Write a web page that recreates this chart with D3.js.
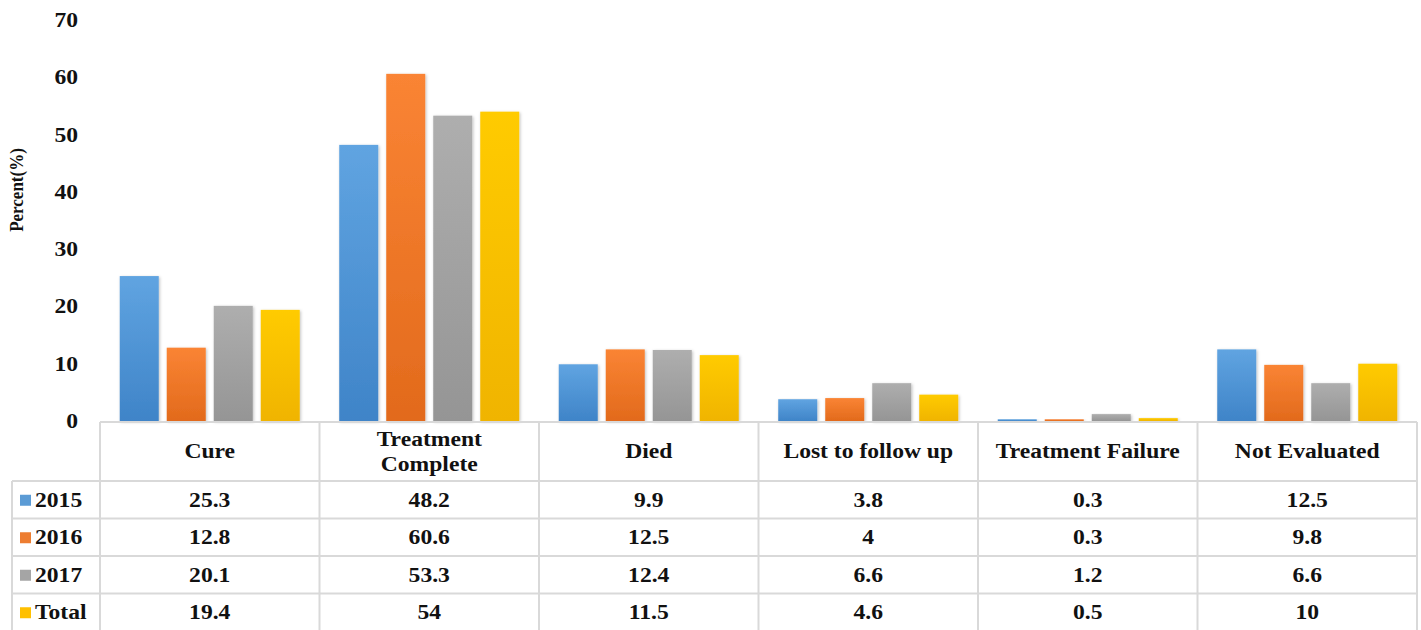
<!DOCTYPE html>
<html>
<head>
<meta charset="utf-8">
<script src="https://cdn.jsdelivr.net/npm/d3@7"></script>
<style>
  body { margin: 0; background: #fff; }
  svg { display: block; font-family: "Liberation Serif", "Times New Roman", serif; }
</style>
</head>
<body>
<svg width="1421" height="630"></svg>
<script>
var categories = ["Cure", "Treatment Complete", "Died", "Lost to follow up", "Treatment Failure", "Not Evaluated"];
var seriesNames = ["2015", "2016", "2017", "Total"];
var v2015 = [25.3, 48.2, 9.9, 3.8, 0.3, 12.5];
var v2016 = [12.8, 60.6, 12.5, 4, 0.3, 9.8];
var v2017 = [20.1, 53.3, 12.4, 6.6, 1.2, 6.6];
var vTotal = [19.4, 54, 11.5, 4.6, 0.5, 10];
var yTicks = [0, 10, 20, 30, 40, 50, 60, 70];

var seriesValues = [v2015, v2016, v2017, vTotal];
var colors = ["#5b9bd5", "#ed7d31", "#a5a5a5", "#ffc000"];
var dark = ["#3f84c8", "#e26a1c", "#959595", "#f0b400"];

var svg = d3.select("svg");

var plotLeft = 100, plotRight = 1417, plotTop = 20, base = 421;
var labelLeft = 12;
var headerBottom = 481;
var rowH = 37.5;
var fs = 20, stretch = 1.18;

var x0 = d3.scaleBand().domain(categories).range([plotLeft, plotRight]).padding(0);
var x1 = d3.scaleBand().domain(seriesNames).range([0, x0.bandwidth()])
    .paddingInner(0.17).paddingOuter(0.42);
var y = d3.scaleLinear().domain([0, 70]).range([base, plotTop]);

// wide bold serif text, like the stretched original
function label(parent, x, yy, txt, anchor) {
    var g = parent.append("g")
        .attr("transform", "translate(" + x + "," + yy + ") scale(" + stretch + ",1)");
    return g.append("text")
        .attr("dy", "0.35em")
        .attr("text-anchor", anchor || "middle")
        .attr("font-size", fs)
        .attr("font-weight", "bold")
        .attr("fill", "#111")
        .text(txt);
}

var defs = svg.append("defs");
seriesNames.forEach(function(s, i) {
    var g = defs.append("linearGradient").attr("id", "grad" + i)
        .attr("x1", 0).attr("y1", 0).attr("x2", 0).attr("y2", 1);
    g.append("stop").attr("offset", "0%").attr("stop-color", d3.color(colors[i]).brighter(0.15));
    g.append("stop").attr("offset", "100%").attr("stop-color", dark[i]);
});
var f = defs.append("filter").attr("id", "shadow")
    .attr("x", "-20%").attr("y", "-5%").attr("width", "140%").attr("height", "115%");
f.append("feDropShadow").attr("dx", 1).attr("dy", 1).attr("stdDeviation", 1.5)
    .attr("flood-color", "#000").attr("flood-opacity", 0.25);

// y ticks (no axis line)
var tickG = svg.append("g");
yTicks.forEach(function(t) {
    label(tickG, 78, y(t), t, "end");
});

svg.append("text")
    .attr("transform", "translate(23,190) scale(1.15,1) rotate(-90)")
    .attr("text-anchor", "middle")
    .attr("font-size", 17)
    .attr("font-weight", "bold")
    .attr("fill", "#111")
    .text("Percent(%)");

// bars
var groups = svg.append("g").selectAll("g")
    .data(categories)
    .enter().append("g")
    .attr("transform", function(d) { return "translate(" + x0(d) + ",0)"; });

groups.selectAll("rect")
    .data(function(d, ci) {
        return seriesNames.map(function(s, si) { return { s: s, si: si, v: seriesValues[si][ci] }; });
    })
    .enter().append("rect")
    .attr("x", function(d) { return x1(d.s); })
    .attr("y", function(d) { return y(d.v); })
    .attr("width", x1.bandwidth())
    .attr("height", function(d) { return base - y(d.v); })
    .attr("fill", function(d) { return "url(#grad" + d.si + ")"; })
    .attr("filter", "url(#shadow)");

// data table
var table = svg.append("g").attr("stroke", "#d9d9d9").attr("stroke-width", 2).attr("fill", "none");
var bottom = headerBottom + rowH * seriesNames.length;
table.append("line").attr("x1", plotLeft).attr("x2", plotRight).attr("y1", base + 1).attr("y2", base + 1);
d3.range(seriesNames.length + 1).forEach(function(i) {
    var yy = headerBottom + i * rowH;
    table.append("line").attr("x1", labelLeft).attr("x2", plotRight).attr("y1", yy).attr("y2", yy);
});
table.append("line").attr("x1", labelLeft).attr("x2", labelLeft).attr("y1", headerBottom).attr("y2", bottom);
categories.forEach(function(c) {
    table.append("line").attr("x1", x0(c)).attr("x2", x0(c)).attr("y1", base + 1).attr("y2", bottom);
});
table.append("line").attr("x1", plotRight).attr("x2", plotRight).attr("y1", base + 1).attr("y2", bottom);

// header labels
var headG = svg.append("g");
var mid = (base + headerBottom) / 2;
categories.forEach(function(c) {
    var cx = x0(c) + x0.bandwidth() / 2;
    if (c == "Treatment Complete") {
        label(headG, cx, mid - 12, "Treatment");
        label(headG, cx, mid + 13, "Complete");
    } else {
        label(headG, cx, mid, c);
    }
});

// row labels with legend keys, and values
var rowG = svg.append("g");
seriesNames.forEach(function(s, i) {
    var cy = headerBottom + i * rowH + rowH / 2;
    rowG.append("rect")
        .attr("x", 20).attr("y", cy - 5).attr("width", 11).attr("height", 11)
        .attr("fill", colors[i]);
    label(rowG, 35, cy, s, "start");
    seriesValues[i].forEach(function(v, ci) {
        label(rowG, x0(categories[ci]) + x0.bandwidth() / 2, cy, v);
    });
});
</script>
</body>
</html>
